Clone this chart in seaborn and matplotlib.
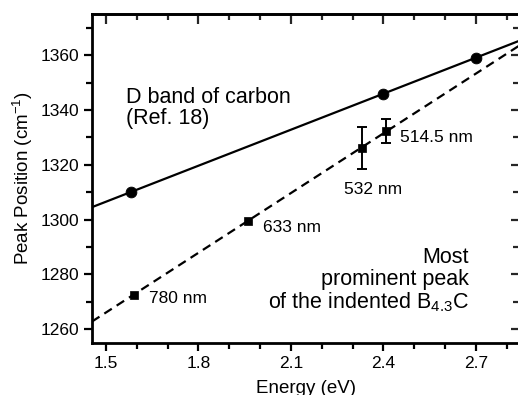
import numpy as np
import pandas as pd
import seaborn as sns
from matplotlib import pyplot as plt

# D band of carbon (Ref. 18)
d_energy = [1.58, 2.40, 2.70]
d_peak = [1310.0, 1346.0, 1359.0]

# most prominent peak of indented B4.3C
b_energy = [1.59, 1.96, 2.33, 2.41]
b_peak = [1272.6, 1299.6, 1326.2, 1332.3]
b_err = [0.0, 0.0, 7.6, 4.3]
b_labels = ["780 nm", "633 nm", "532 nm", "514.5 nm"]

sns.set_theme(style="ticks")
plt.rcParams['font.family'] = ['Liberation Sans', 'DejaVu Sans']
plt.rcParams['mathtext.fontset'] = 'custom'
plt.rcParams['mathtext.rm'] = 'Liberation Sans'
plt.rcParams['mathtext.it'] = 'Liberation Sans'
plt.rcParams['text.color'] = 'black'
plt.rcParams['axes.labelcolor'] = 'black'

fig = plt.figure(figsize=(5.18, 3.95), dpi=100)
ax = fig.add_axes([92 / 518, 1 - 343 / 395, 427 / 518, 329 / 395])
ax.set_xlim(1.455, 2.84)
ax.set_ylim(1255, 1375)

df_d = pd.DataFrame({'energy': d_energy, 'peak': d_peak})
df_b = pd.DataFrame({'energy': b_energy, 'peak': b_peak, 'err': b_err})

# fit lines across the full axis range
sns.regplot(data=df_d, x='energy', y='peak', ax=ax, scatter=False, ci=None,
            truncate=False, color='black', line_kws={'lw': 1.6})
sns.regplot(data=df_b, x='energy', y='peak', ax=ax, scatter=False, ci=None,
            truncate=False, color='black',
            line_kws={'lw': 1.6, 'ls': (0, (4, 2.6))})

sns.scatterplot(data=df_d, x='energy', y='peak', ax=ax, marker='o', s=60,
                color='black', edgecolor='black', zorder=5)
sns.scatterplot(data=df_b, x='energy', y='peak', ax=ax, marker='s', s=40,
                color='black', edgecolor='black', zorder=5)
eb = df_b[df_b['err'] > 0]
ax.errorbar(eb['energy'], eb['peak'], yerr=eb['err'], fmt='none',
            ecolor='black', elinewidth=1.4, capsize=3.5, capthick=1.4, zorder=4)

ax.set_xlim(1.455, 2.84)
ax.set_ylim(1255, 1375)

# labels for the laser lines
lab_pos = [(1.64, 1271.3, 'left'), (2.009, 1297.0, 'left'),
           (2.367, 1311.1, 'center'), (2.453, 1329.9, 'left')]
for (x, y, ha), t in zip(lab_pos, b_labels):
    ax.text(x, y, t, fontsize=12.5, ha=ha, va='center')

ax.text(1.564, 1340.6, "D band of carbon\n(Ref. 18)", fontsize=15.5,
        ha='left', va='center', linespacing=1.0)
ax.text(2.6765, 1277.8, "Most\nprominent peak\nof the indented B$_{4.3}$C",
        fontsize=15.5, ha='right', va='center', multialignment='right',
        linespacing=1.05)

ax.set_xticks([1.5, 1.8, 2.1, 2.4, 2.7])
ax.set_xticks(np.arange(1.5, 2.85, 0.1), minor=True)
ax.set_yticks([1260, 1280, 1300, 1320, 1340, 1360])
ax.set_yticks(np.arange(1260, 1375, 10), minor=True)
ax.tick_params(which='both', direction='out', labelsize=12.5, width=1.6,
               color='black', labelcolor='black')
ax.tick_params(which='major', length=6)
ax.tick_params(which='minor', length=4)

# mirrored ticks on top and right, pointing inwards
top = ax.secondary_xaxis('top')
top.set_xticks([1.5, 1.8, 2.1, 2.4, 2.7])
top.set_xticks(np.arange(1.5, 2.85, 0.1), minor=True)
top.tick_params(which='both', direction='in', labeltop=False, width=1.6)
top.tick_params(which='major', length=7)
top.tick_params(which='minor', length=4)
top.spines['top'].set_linewidth(2)
right = ax.secondary_yaxis('right')
right.set_yticks([1260, 1280, 1300, 1320, 1340, 1360])
right.set_yticks(np.arange(1260, 1375, 10), minor=True)
right.tick_params(which='both', direction='in', labelright=False, width=1.6)
right.tick_params(which='major', length=6)
right.tick_params(which='minor', length=4)

for s in ['left', 'bottom', 'top', 'right']:
    ax.spines[s].set_linewidth(2)
    ax.spines[s].set_color('black')

ax.set_xlabel("Energy (eV)", fontsize=13.5, labelpad=6)
ax.set_ylabel("Peak Position (cm$^{-1}$)", fontsize=13.5, labelpad=4)

fig.savefig("out.png", dpi=100)
